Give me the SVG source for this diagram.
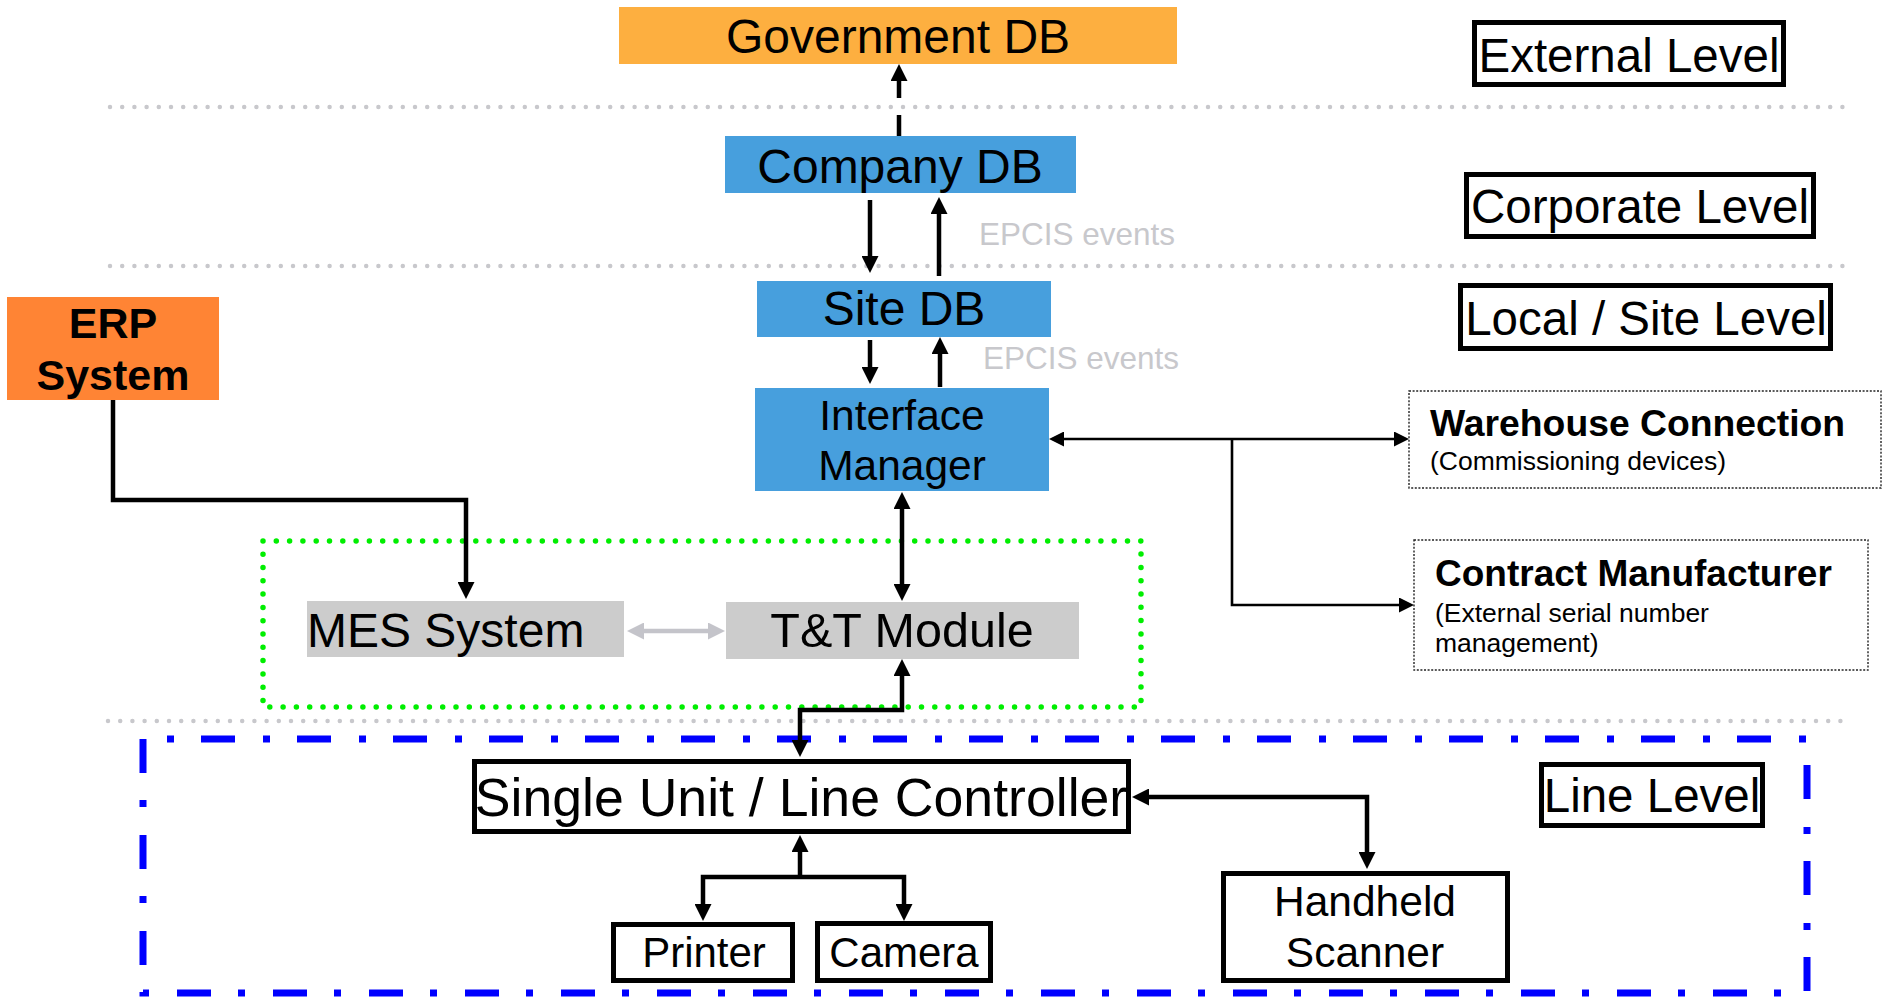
<svg xmlns="http://www.w3.org/2000/svg" width="1882" height="1002" viewBox="0 0 1882 1002">
<style>
text{font-family:"Liberation Sans",Arial,sans-serif;fill:#000}
.c{text-anchor:middle}
.b{font-weight:bold}
.sep{fill:none;stroke:#c8c8cc;stroke-width:4.5;stroke-linecap:round;stroke-dasharray:0 12.2}
.lvl{fill:#fff;stroke:#000;stroke-width:5}
.box{fill:#fff;stroke:#000;stroke-width:5}
.blue{fill:#479fdd}
.grey{fill:#cccccc}
.ext{fill:#fff;stroke:#222;stroke-width:1.4;stroke-dasharray:2 1.6}
.con{fill:none;stroke:#000;stroke-width:4.5}
.thin{fill:none;stroke:#000;stroke-width:2.6}
.gcon{fill:none;stroke:#c4c4ca;stroke-width:4.5}
.epcis{fill:#c8c8cc;font-size:31.5px}
</style>
<defs>
<marker id="ah" markerUnits="userSpaceOnUse" markerWidth="17" markerHeight="17" viewBox="0 0 17 17" refX="0" refY="8.5" orient="auto-start-reverse"><path d="M0,0 L17,8.5 L0,17 z" fill="#000"/></marker>
<marker id="ahs" markerUnits="userSpaceOnUse" markerWidth="15" markerHeight="15" viewBox="0 0 15 15" refX="0" refY="7.5" orient="auto-start-reverse"><path d="M0,0 L15,7.5 L0,15 z" fill="#000"/></marker>
<marker id="ahg" markerUnits="userSpaceOnUse" markerWidth="17" markerHeight="17" viewBox="0 0 17 17" refX="0" refY="8.5" orient="auto-start-reverse"><path d="M0,0 L17,8.5 L0,17 z" fill="#c4c4ca"/></marker>
</defs>

<g id="separators">
<line class="sep" x1="110" y1="107" x2="1845" y2="107"/>
<line class="sep" x1="110" y1="266" x2="1845" y2="266"/>
<line class="sep" x1="108" y1="721" x2="1843" y2="721"/>
</g>

<g id="tt-group">
<rect x="263" y="541" width="878" height="166" fill="none" stroke="#00ee00" stroke-width="5.5" stroke-linecap="round" stroke-dasharray="0 13.3"/>
</g>
<g id="line-group">
<path d="M143,739 V993 H1807 V739 Z" fill="none" stroke="#0000ff" stroke-width="7" stroke-dasharray="34 27 7 28"/>
</g>

<g id="connectors">
<path class="con" d="M899,136 V81" stroke-dasharray="21 17 100" marker-end="url(#ah)"/>
<path class="con" d="M870,200 V256" marker-end="url(#ah)"/>
<path class="con" d="M939,276 V214" marker-end="url(#ah)"/>
<path class="con" d="M870,340 V367" marker-end="url(#ah)"/>
<path class="con" d="M940,387 V354" marker-end="url(#ah)"/>
<path class="con" d="M902,509 V584" marker-start="url(#ah)" marker-end="url(#ah)"/>
<path class="con" d="M113,400 V500 H466 V582" marker-end="url(#ah)"/>
<path class="gcon" d="M644,631 H708" marker-start="url(#ahg)" marker-end="url(#ahg)"/>
<path class="con" d="M800,740 V710 H902 V676" marker-start="url(#ah)" marker-end="url(#ah)"/>
<path class="con" d="M800,877 V852" marker-end="url(#ah)"/>
<path class="con" d="M703,904 V877 H904 V904" marker-start="url(#ah)" marker-end="url(#ah)"/>
<path class="con" d="M1149,797 H1367 V852" marker-start="url(#ah)" marker-end="url(#ah)"/>
<path class="thin" d="M1064,439 H1394" marker-start="url(#ahs)" marker-end="url(#ahs)"/>
<path class="thin" d="M1232,439 V605 H1399" marker-end="url(#ahs)"/>
<text class="epcis" x="979" y="245">EPCIS events</text>
<text class="epcis" x="983" y="369">EPCIS events</text>
</g>

<g id="government-db">
<rect x="619" y="7" width="558" height="57" fill="#fdaf40"/>
<text class="c" x="898" y="53" font-size="48">Government DB</text>
</g>
<g id="company-db">
<rect class="blue" x="725" y="136" width="351" height="57"/>
<text class="c" x="900" y="183" font-size="48">Company DB</text>
</g>
<g id="site-db">
<rect class="blue" x="757" y="281" width="294" height="56"/>
<text class="c" x="904" y="325" font-size="48">Site DB</text>
</g>
<g id="interface-manager">
<rect class="blue" x="755" y="388" width="294" height="103"/>
<text class="c" x="902" y="430" font-size="42.5">Interface</text>
<text class="c" x="902" y="480" font-size="42.5">Manager</text>
</g>
<g id="erp-system">
<rect x="7" y="297" width="212" height="103" fill="#ff8434"/>
<text class="c b" x="113" y="338" font-size="43">ERP</text>
<text class="c b" x="113" y="390" font-size="43">System</text>
</g>
<g id="mes-system">
<rect class="grey" x="307" y="601" width="317" height="56"/>
<text x="307" y="647" font-size="48">MES System</text>
</g>
<g id="tt-module">
<rect class="grey" x="726" y="602" width="353" height="57"/>
<text class="c" x="902" y="647" font-size="48.5">T&amp;T Module</text>
</g>
<g id="warehouse-connection">
<rect class="ext" x="1409" y="391" width="472" height="97"/>
<text class="b" x="1430" y="436" font-size="37.3">Warehouse Connection</text>
<text x="1430" y="470" font-size="26.5">(Commissioning devices)</text>
</g>
<g id="contract-manufacturer">
<rect class="ext" x="1414" y="540" width="454" height="130"/>
<text class="b" x="1435" y="586" font-size="37">Contract Manufacturer</text>
<text x="1435" y="622" font-size="26.5">(External serial number</text>
<text x="1435" y="652" font-size="26.5">management)</text>
</g>
<g id="line-controller">
<rect class="box" x="474.5" y="761.5" width="654" height="70"/>
<text class="c" x="801" y="816" font-size="53.6">Single Unit / Line Controller</text>
</g>
<g id="printer">
<rect class="box" x="613.5" y="924.5" width="179" height="56"/>
<text class="c" x="704" y="967" font-size="42">Printer</text>
</g>
<g id="camera">
<rect class="box" x="817.5" y="923.5" width="173" height="57"/>
<text class="c" x="904" y="967" font-size="42">Camera</text>
</g>
<g id="handheld-scanner">
<rect class="box" x="1223.5" y="873.5" width="284" height="107"/>
<text class="c" x="1365" y="916" font-size="42.5">Handheld</text>
<text class="c" x="1365" y="967" font-size="42.5">Scanner</text>
</g>
<g id="external-level">
<rect class="lvl" x="1474.5" y="22.5" width="309" height="62"/>
<text class="c" x="1629" y="72" font-size="47.5">External Level</text>
</g>
<g id="corporate-level">
<rect class="lvl" x="1466.5" y="174.5" width="347" height="62"/>
<text class="c" x="1640" y="223" font-size="47.5">Corporate Level</text>
</g>
<g id="local-site-level">
<rect class="lvl" x="1460.5" y="285.5" width="370" height="63"/>
<text class="c" x="1646" y="335" font-size="47.5">Local / Site Level</text>
</g>
<g id="line-level">
<rect class="lvl" x="1541.5" y="764.5" width="221" height="61"/>
<text class="c" x="1652" y="812" font-size="47.5">Line Level</text>
</g>
</svg>
